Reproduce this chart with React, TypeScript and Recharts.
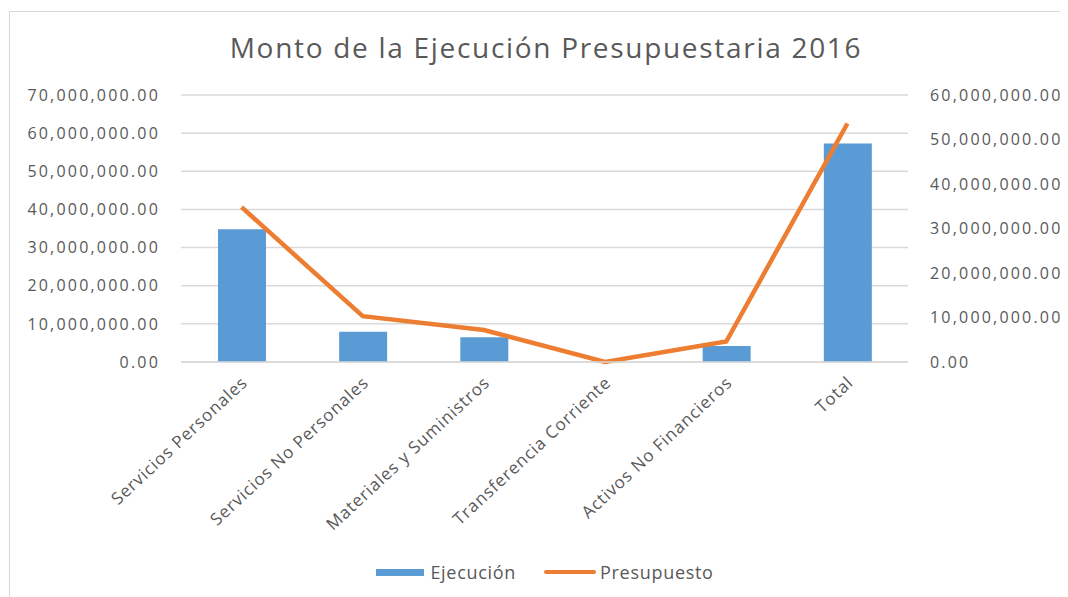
import { Bar, CartesianGrid, ComposedChart, Legend, Line, XAxis, YAxis } from 'recharts';

const categories = [
  'Servicios Personales',
  'Servicios No Personales',
  'Materiales y Suministros',
  'Transferencia Corriente',
  'Activos No Financieros',
  'Total',
];
const ejecucion = [34800000, 7900000, 6500000, 0, 4200000, 57300000];
const presupuesto = [34800000, 10300000, 7200000, 0, 4600000, 53600000];
const leftTicks = [0, 10000000, 20000000, 30000000, 40000000, 50000000, 60000000, 70000000];
const rightTicks = [0, 10000000, 20000000, 30000000, 40000000, 50000000, 60000000];

const data = categories.map((name, i) => ({
  name,
  ejecucion: ejecucion[i],
  presupuesto: presupuesto[i],
}));

const FONT = '"Open Sans", sans-serif';
const TEXT = '#595959';
const BLUE = '#5B9BD5';
const ORANGE = '#ED7D31';

const fmt = (v: number) =>
  v.toLocaleString('en-US', { minimumFractionDigits: 2, maximumFractionDigits: 2 });

const tickStyle = { fill: TEXT, fontSize: 16, fontFamily: FONT, letterSpacing: 2.2 };

function CategoryTick({ x, y, payload }: { x?: number; y?: number; payload?: { value: string } }) {
  return (
    <text
      transform={`translate(${(x ?? 0) + 7},${(y ?? 0) + 14}) rotate(-43)`}
      textAnchor="end"
      fill={TEXT}
      fontSize={17}
      fontFamily={FONT}
      letterSpacing={0.9}
    >
      {payload?.value}
    </text>
  );
}

function ChartLegend() {
  return (
    <div
      style={{
        display: 'flex',
        justifyContent: 'center',
        alignItems: 'center',
        height: 24,
        fontFamily: FONT,
        fontSize: 18,
        color: TEXT,
        letterSpacing: 0.7,
        paddingLeft: 12,
      }}
    >
      <span style={{ display: 'inline-block', width: 48, height: 7, background: BLUE, marginRight: 6 }} />
      <span style={{ marginRight: 28 }}>Ejecución</span>
      <span
        style={{ display: 'inline-block', width: 52, height: 4, borderRadius: 2, background: ORANGE, marginRight: 4 }}
      />
      <span>Presupuesto</span>
    </div>
  );
}

export default function App() {
  return (
    <div
      style={{
        position: 'relative',
        marginTop: 3,
        marginLeft: 1,
        width: 1080,
        height: 600,
        borderTop: '1px solid #d9d9d9',
        borderLeft: '1px solid #d9d9d9',
        background: '#fff',
      }}
    >
      <div
        style={{
          position: 'absolute',
          top: 16,
          left: 0,
          width: 1072,
          textAlign: 'center',
          fontFamily: FONT,
          fontSize: 28,
          color: TEXT,
          letterSpacing: 1.7,
        }}
      >
        Monto de la Ejecución Presupuestaria 2016
      </div>
      <div style={{ position: 'absolute', top: 0, left: 0 }}>
        <ComposedChart
          width={1058}
          height={580}
          data={data}
          margin={{ top: 83, right: 0, bottom: 8, left: 0 }}
        >
          <CartesianGrid yAxisId="left" vertical={false} stroke="#d9d9d9" strokeWidth={1.5} />
          <XAxis
            dataKey="name"
            height={198}
            interval={0}
            tick={<CategoryTick />}
            tickLine={false}
            axisLine={{ stroke: '#d9d9d9', strokeWidth: 1.5 }}
          />
          <YAxis
            yAxisId="left"
            width={171}
            domain={[0, 70000000]}
            ticks={leftTicks}
            tickFormatter={fmt}
            tick={tickStyle}
            tickLine={false}
            axisLine={false}
            tickSize={0}
            tickMargin={21}
          />
          <YAxis
            yAxisId="right"
            orientation="right"
            width={160}
            domain={[0, 60000000]}
            ticks={rightTicks}
            tickFormatter={fmt}
            tick={{ ...tickStyle, textAnchor: 'start' }}
            tickLine={false}
            axisLine={false}
            tickSize={0}
            tickMargin={22}
          />
          <Bar yAxisId="left" dataKey="ejecucion" name="Ejecución" fill={BLUE} barSize={48} isAnimationActive={false} />
          <Line
            yAxisId="right"
            type="linear"
            dataKey="presupuesto"
            name="Presupuesto"
            stroke={ORANGE}
            strokeWidth={4.5}
            dot={false}
            activeDot={false}
            isAnimationActive={false}
          />
          <Legend verticalAlign="bottom" height={24} content={<ChartLegend />} />
        </ComposedChart>
      </div>
    </div>
  );
}
